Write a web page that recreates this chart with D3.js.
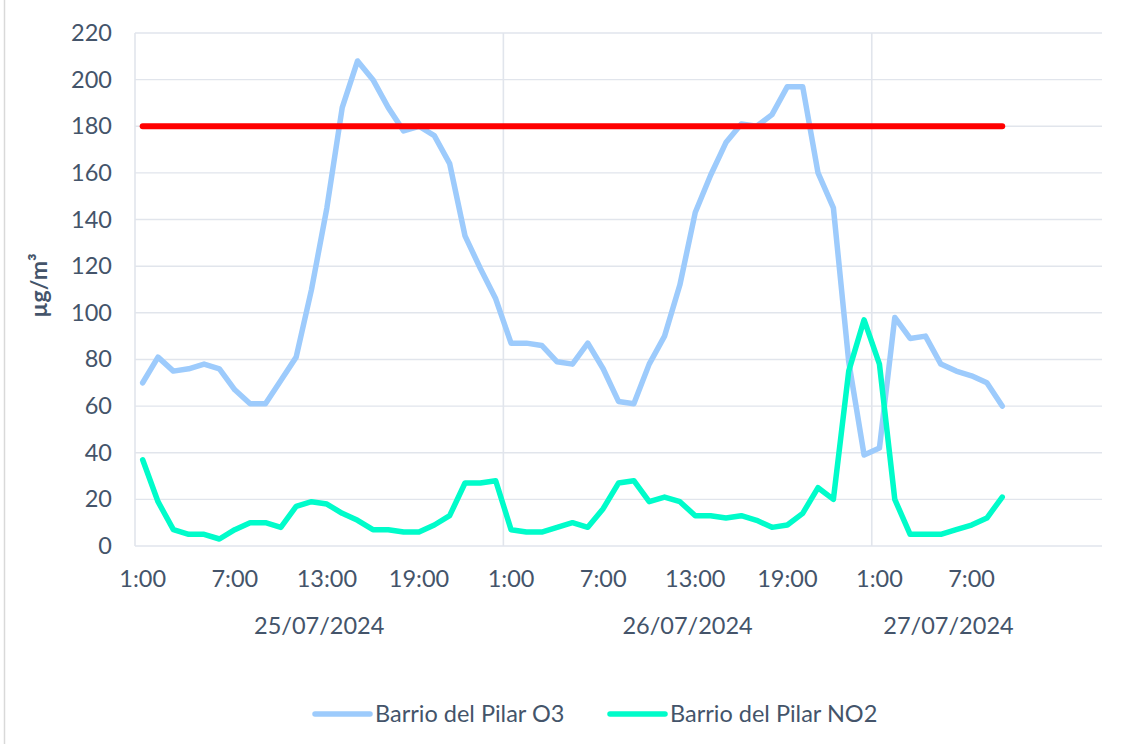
<!DOCTYPE html>
<html>
<head>
<meta charset="utf-8">
<script src="https://cdn.jsdelivr.net/npm/d3@7"></script>
<style>
  body { margin: 0; background: #fff; }
  svg text { font-family: Lato, "Open Sans", sans-serif; fill: #44546A; }
</style>
</head>
<body>
<div id="chart"></div>
<script>
// days on the multi-level axis, hours per day, and empty slots at the end
var days = ["25/07/2024", "26/07/2024", "27/07/2024"];
var hoursPerDay = [24, 24, 10];
var blankSlots = 5;

var o3 = [70, 81, 75, 76, 78, 76, 67, 61, 61, 71, 81, 110, 145, 188, 208, 200, 188, 178, 180, 176, 164, 133, 119, 106,
          87, 87, 86, 79, 78, 87, 76, 62, 61, 78, 90, 112, 143, 159, 173, 181, 180, 185, 197, 197, 160, 145, 79, 39,
          42, 98, 89, 90, 78, 75, 73, 70, 60];
var no2 = [37, 19, 7, 5, 5, 3, 7, 10, 10, 8, 17, 19, 18, 14, 11, 7, 7, 6, 6, 9, 13, 27, 27, 28,
           7, 6, 6, 8, 10, 8, 16, 27, 28, 19, 21, 19, 13, 13, 12, 13, 11, 8, 9, 14, 25, 20, 75, 97,
           78, 20, 5, 5, 5, 7, 9, 12, 21];
var limitValue = 180;

var seriesNames = ["Barrio del Pilar O3", "Barrio del Pilar NO2"];
var seriesColors = ["#9DCBFC", "#00FCCA"];
var yTicks = [0, 20, 40, 60, 80, 100, 120, 140, 160, 180, 200, 220];

// build category slots
var slots = [];
days.forEach(function(d, di) {
    for (var h = 1; h <= hoursPerDay[di]; h++) {
        slots.push({ day: d, hour: (h % 24) + ":00" });
    }
});
for (var b = 0; b < blankSlots; b++) slots.push({ day: "", hour: "" });

var width = 1134, height = 744;
var plotLeft = 135, plotRight = 1102, plotTop = 33, plotBottom = 546;
var fontSize = "23.5px";

var svg = d3.select("#chart").append("svg")
    .attr("width", width)
    .attr("height", height);

// chart frame edge
svg.append("line")
    .attr("x1", 4.5).attr("x2", 4.5)
    .attr("y1", 0).attr("y2", height)
    .attr("stroke", "#D9D9D9").attr("stroke-width", 1.5);

var x = d3.scaleBand()
    .domain(d3.range(slots.length))
    .range([plotLeft, plotRight])
    .padding(0);

var y = d3.scaleLinear()
    .domain([0, 220])
    .range([plotBottom, plotTop]);

function cx(i) { return x(i) + x.bandwidth() / 2; }

// horizontal gridlines
svg.append("g").selectAll("line")
    .data(yTicks)
    .enter().append("line")
    .attr("x1", plotLeft).attr("x2", plotRight)
    .attr("y1", function(d) { return y(d); })
    .attr("y2", function(d) { return y(d); })
    .attr("stroke", "#E1E5EC")
    .attr("stroke-width", 1.4);

// vertical lines: left edge and day separators
var dayStarts = [0];
hoursPerDay.forEach(function(n, i) { dayStarts.push(dayStarts[i] + n); });
var sepIdx = dayStarts.slice(0, days.length);

svg.append("g").selectAll("line")
    .data(sepIdx)
    .enter().append("line")
    .attr("x1", function(d) { return x(d); })
    .attr("x2", function(d) { return x(d); })
    .attr("y1", plotTop).attr("y2", plotBottom)
    .attr("stroke", "#E1E5EC")
    .attr("stroke-width", 1.6);

// y tick labels
svg.append("g").selectAll("text")
    .data(yTicks)
    .enter().append("text")
    .attr("x", 112)
    .attr("y", function(d) { return y(d) + 8; })
    .attr("text-anchor", "end")
    .attr("font-size", fontSize)
    .text(function(d) { return d; });

// y axis title
svg.append("text")
    .attr("transform", "translate(47," + ((plotTop + plotBottom) / 2 - 4) + ") rotate(-90)")
    .attr("text-anchor", "middle")
    .attr("font-size", "23px")
    .attr("font-weight", 700)
    .text("µg/m³");

// hour labels every 6 slots
svg.append("g").selectAll("text")
    .data(d3.range(0, slots.length, 6).filter(function(i) { return slots[i].hour !== ""; }))
    .enter().append("text")
    .attr("x", function(i) { return cx(i); })
    .attr("y", 587)
    .attr("text-anchor", "middle")
    .attr("font-size", fontSize)
    .text(function(i) { return slots[i].hour; });

// day labels
svg.append("g").selectAll("text")
    .data(days)
    .enter().append("text")
    .attr("x", function(d, i) {
        return (x(dayStarts[i]) + x(dayStarts[i + 1] - 1) + x.bandwidth()) / 2;
    })
    .attr("y", 634)
    .attr("text-anchor", "middle")
    .attr("font-size", fontSize)
    .text(function(d) { return d; });

var line = d3.line()
    .x(function(d, i) { return cx(i); })
    .y(function(d) { return y(d); });

svg.append("path")
    .datum(o3)
    .attr("d", line)
    .attr("fill", "none")
    .attr("stroke", seriesColors[0])
    .attr("stroke-width", 5.5)
    .attr("stroke-linejoin", "round")
    .attr("stroke-linecap", "round");

svg.append("path")
    .datum(no2)
    .attr("d", line)
    .attr("fill", "none")
    .attr("stroke", seriesColors[1])
    .attr("stroke-width", 5.5)
    .attr("stroke-linejoin", "round")
    .attr("stroke-linecap", "round");

// limit line
svg.append("path")
    .datum(o3.map(function() { return limitValue; }))
    .attr("d", line)
    .attr("fill", "none")
    .attr("stroke", "#FF0000")
    .attr("stroke-width", 6)
    .attr("stroke-linecap", "round");

// legend
var legendX = [315, 610];
var legend = svg.append("g").selectAll("g")
    .data(seriesNames)
    .enter().append("g")
    .attr("transform", function(d, i) { return "translate(" + legendX[i] + ",714)"; });

legend.append("line")
    .attr("x1", 0).attr("x2", 55)
    .attr("y1", 0).attr("y2", 0)
    .attr("stroke", function(d, i) { return seriesColors[i]; })
    .attr("stroke-width", 5.5)
    .attr("stroke-linecap", "round");

legend.append("text")
    .attr("x", 60)
    .attr("y", 8)
    .attr("font-size", fontSize)
    .text(function(d) { return d; });
</script>
</body>
</html>
